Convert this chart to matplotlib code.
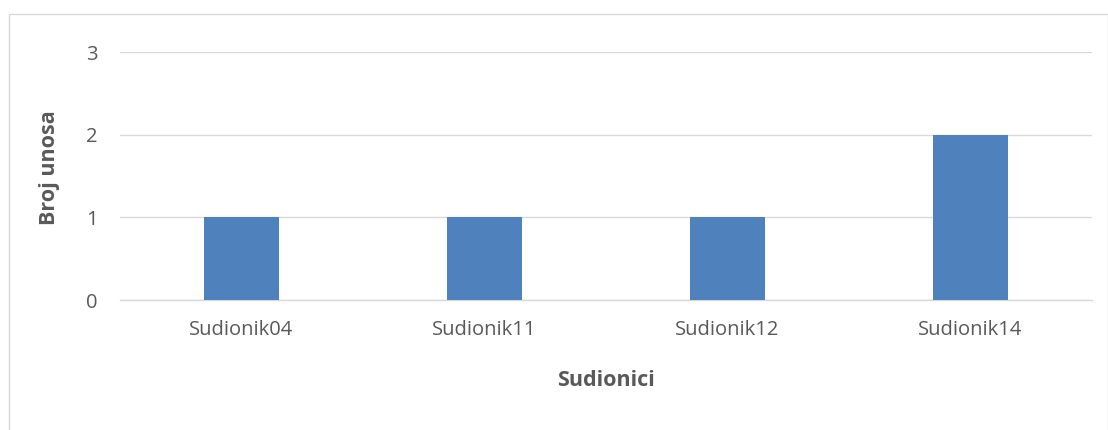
import matplotlib
matplotlib.use("Agg")
import matplotlib.pyplot as plt
from matplotlib.patches import Rectangle

categories = ["Sudionik04", "Sudionik11", "Sudionik12", "Sudionik14"]
values = [1, 1, 1, 2]
yticks = [0, 1, 2, 3]

plt.rcParams['font.family'] = ['Open Sans', 'DejaVu Sans']
W, H = 1108, 430
fig = plt.figure(figsize=(W / 100, H / 100), dpi=100)

# outer chart border
fig.patches.append(Rectangle((9 / W, -0.1), (W - 9) / W, 1.1 - 14 / H,
                             transform=fig.transFigure, fill=False,
                             edgecolor="#D9D9D9", linewidth=1.0))

ax = fig.add_axes([120 / W, 1 - 300 / H, (1092 - 120) / W, (300 - 52) / H])
x = list(range(len(categories)))
ax.bar(x, values, width=0.31, color="#4F81BD", zorder=3)
ax.set_xlim(-0.5, len(categories) - 0.5)
ax.set_ylim(0, 3)
ax.set_yticks(yticks)
ax.set_xticks(x)
ax.set_xticklabels(categories)
ax.grid(axis="y", color="#D9D9D9", linewidth=1.0, zorder=0)
for s in ["top", "right", "left"]:
    ax.spines[s].set_visible(False)
ax.spines["bottom"].set_color("#D9D9D9")
ax.spines["bottom"].set_linewidth(1.0)
ax.tick_params(axis="both", length=0, colors="#595959", labelsize=14.5)
ax.tick_params(axis="y", pad=16)
ax.tick_params(axis="x", pad=14.5)

fig.text(49 / W, 1 - 168 / H, "Broj unosa", rotation=90, ha="center", va="center",
         fontsize=15.5, fontweight="bold", color="#595959")
fig.text(606 / W, 1 - 381 / H, "Sudionici", ha="center", va="center",
         fontsize=15.5, fontweight="bold", color="#595959")

fig.savefig("out.png", dpi=100)
